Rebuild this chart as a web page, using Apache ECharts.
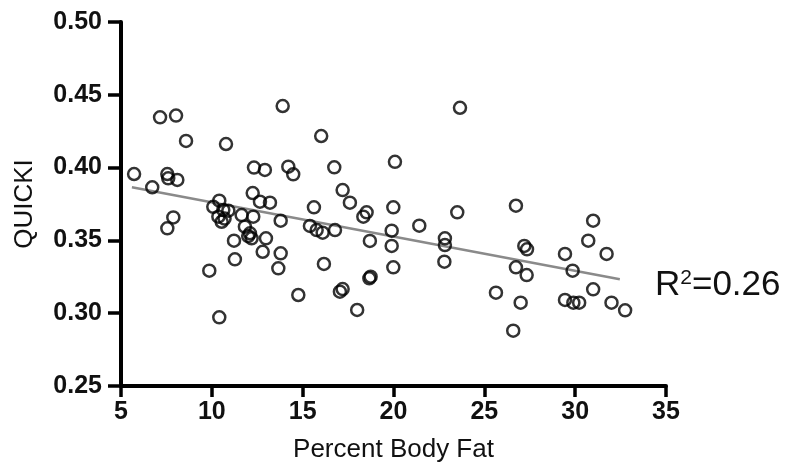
<!DOCTYPE html>
<html><head><meta charset="utf-8">
<script src="https://cdn.jsdelivr.net/npm/echarts@6/dist/echarts.min.js"></script>
<style>html,body{margin:0;padding:0;background:#fff}#c{width:790px;height:472px}</style>
</head><body><div id="c"></div>
<script>
const xTicks = [5, 10, 15, 20, 25, 30, 35];
const yTicks = [0.25, 0.30, 0.35, 0.40, 0.45, 0.50];
const bodyFat = [5.72,7.15,8.03,8.58,10.78,13.9,16.02,20.08,6.72,7.55,7.6,8.1,12.32,12.92,14.21,14.48,16.74,17.2,12.25,23.66,
10.41,10.08,10.63,10.91,10.36,10.54,10.7,
12.65,13.2,11.64,12.28,13.79,15.62,15.4,15.77,16.1,16.78,11.82,12.1,12.19,12.0,12.98,11.22,12.8,13.79,11.27,13.66,9.86,16.17,
7.88,7.55,10.41,17.6,18.34,18.52,18.7,14.76,17.05,17.2,18.0,18.67,18.74,19.99,19.9,19.9,19.99,
21.42,23.51,22.83,22.83,22.8,26.74,27.2,27.35,26.74,27.33,25.64,27.0,26.59,29.44,30.72,30.99,31.73,29.86,30.99,29.44,29.9,30.22,32.0,32.75];
const quicki = [0.3956,0.4345,0.4357,0.4183,0.4162,0.4423,0.4217,0.404,0.3865,0.3956,0.3926,0.3915,0.4000,0.3984,0.4006,0.3954,0.4002,0.3846,0.3825,0.4411,
0.3773,0.3731,0.3709,0.3704,0.3663,0.3628,0.3650,
0.3766,0.3759,0.3674,0.3663,0.3635,0.3727,0.3599,0.3571,0.3553,0.3571,0.3594,0.3549,0.3514,0.3530,0.3514,0.3498,0.3422,0.3411,0.337,0.3308,0.3292,0.3338,
0.3658,0.3583,0.2972,0.3759,0.3663,0.3693,0.3496,0.3125,0.3148,0.3166,0.3022,0.324,0.3251,0.3727,0.3567,0.3462,0.3315,
0.3601,0.3693,0.3514,0.3468,0.3354,0.3738,0.3462,0.3439,0.3315,0.3262,0.3141,0.3072,0.288,0.3407,0.3498,0.3635,0.3407,0.3292,0.3164,0.3091,0.3072,0.3072,0.3072,0.302];
const fitX = [5.6, 32.46];
const fitY = [0.3865, 0.3233];
const r2Label = '0.26';

const pts = bodyFat.map((x, i) => [x, quicki[i]]);
const fit = fitX.map((x, i) => [x, fitY[i]]);
const chart = echarts.init(document.getElementById('c'));
const font = 'Liberation Sans, Arial, sans-serif';
chart.setOption({
  animation: false,
  grid: {left: 121, right: 124, top: 22, bottom: 86, containLabel: false},
  xAxis: {
    type: 'value', min: xTicks[0], max: xTicks[xTicks.length-1], interval: 5,
    name: 'Percent Body Fat', nameLocation: 'middle', nameGap: 51,
    nameTextStyle: {fontFamily: font, fontSize: 26, color: '#111'},
    axisLine: {show: true, lineStyle: {color: '#000', width: 4}},
    axisTick: {show: true, length: 11, lineStyle: {color: '#000', width: 3.5}},
    axisLabel: {fontFamily: font, fontSize: 25, fontWeight: 'bold', color: '#111', margin: 14},
    splitLine: {show: false}
  },
  yAxis: {
    type: 'value', min: yTicks[0], max: yTicks[yTicks.length-1], interval: 0.05,
    name: 'QUICKI', nameLocation: 'middle', nameGap: 83,
    nameTextStyle: {fontFamily: font, fontSize: 26, color: '#111'},
    axisLine: {show: true, lineStyle: {color: '#000', width: 4}},
    axisTick: {show: true, length: 13, lineStyle: {color: '#000', width: 3.5}},
    axisLabel: {fontFamily: font, fontSize: 25, fontWeight: 'bold', color: '#111', margin: 19,
      formatter: v => v.toFixed(2)},
    splitLine: {show: false}
  },
  series: [
    {type: 'line', data: fit, symbol: 'none', lineStyle: {color: '#8a8a8a', width: 2.5}, z: 1},
    {type: 'scatter', data: pts, symbol: 'circle', symbolSize: 12,
     itemStyle: {color: 'rgba(0,0,0,0)', borderColor: '#000', borderWidth: 2.5}, z: 2}
  ],
  graphic: [{
    type: 'text', left: 655, top: 268,
    style: {
      text: 'R{s|2}=' + r2Label,
      fontFamily: font, fontSize: 35, fill: '#111',
      rich: {s: {fontSize: 21, fontFamily: font, fill: '#111', verticalAlign: 'top', padding: [0,0,14,0]}}
    }
  }]
});
</script></body></html>
